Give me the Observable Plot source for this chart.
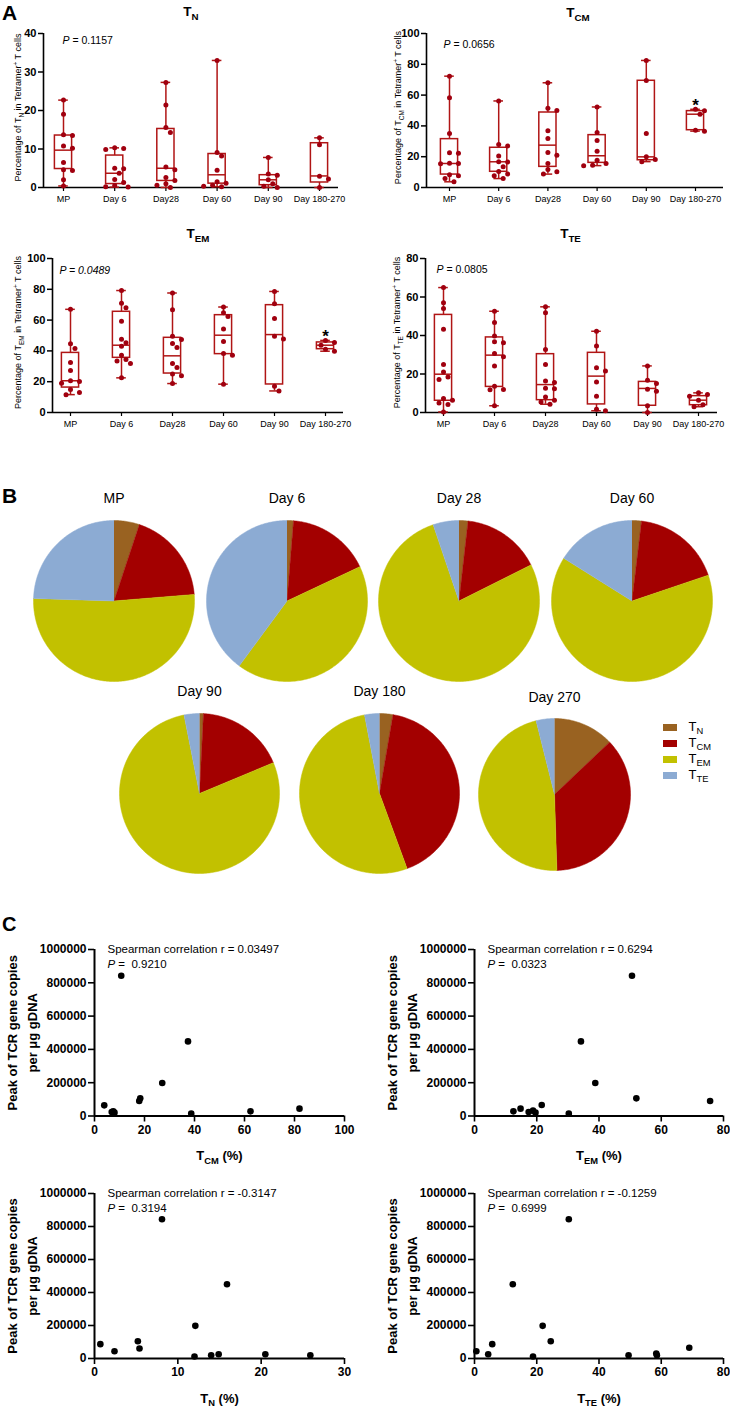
<!DOCTYPE html>
<html>
<head>
<meta charset="utf-8">
<script src="https://cdn.jsdelivr.net/npm/d3@7"></script>
<script src="https://cdn.jsdelivr.net/npm/@observablehq/plot@0.6"></script>
<style>
  html, body { margin: 0; padding: 0; background: #fff; }
  #fig { position: relative; width: 730px; height: 1407px; font-family: "Liberation Sans", Arial, Helvetica, sans-serif; color: #000; overflow: hidden; }
  .letter { position: absolute; font-weight: bold; line-height: 1; }
</style>
</head>
<body>
<div id="fig">
  <div class="letter" style="left:2px; top:2px; font-size:21px;">A</div>
  <div class="letter" style="left:2px; top:485px; font-size:21px;">B</div>
  <div class="letter" style="left:2px; top:914px; font-size:20px;">C</div>
</div>
<script>
// ---------------- DATA ----------------
const groupsA = ["MP", "Day 6", "Day28", "Day 60", "Day 90", "Day 180-270"];

// Panel A: individual values per group (% of tetramer+ T cells)
const tnPoints = [
  [22.7, 19.0, 13.7, 13.5, 10.8, 10.2, 6.5, 4.6, 4.4, 2.0, 0.4],
  [10.3, 10.1, 9.9, 5.0, 4.9, 3.7, 2.1, 1.3, 0.5, 0.2, 0.1],
  [27.3, 21.4, 15.6, 14.3, 5.3, 4.6, 2.6, 1.8, 1.0, 0.6, 0.0],
  [33.0, 9.1, 8.2, 4.5, 1.5, 1.1, 0.6, 0.3, 0.2],
  [7.8, 3.5, 3.2, 2.0, 1.0, 0.3, 0.0],
  [12.9, 11.1, 2.9, 2.2, 0.0]
];
// box stats: [min, q1, median, q3, max]
const tnBox = [
  [0.4, 4.8, 9.7, 13.5, 22.7], [0.1, 0.9, 3.7, 8.3, 10.3], [0.0, 1.7, 5.0, 15.2, 27.3],
  [0.2, 1.0, 3.3, 8.7, 33.0], [0.0, 0.6, 2.0, 3.2, 7.8], [0.0, 1.3, 3.0, 11.5, 12.9]
];
const tcmPoints = [
  [72.3, 58.2, 35.0, 22.5, 22.3, 15.8, 15.6, 15.5, 8.2, 7.6, 5.8, 3.7],
  [56.2, 27.9, 27.0, 20.5, 16.8, 16.5, 13.4, 10.4, 8.7, 7.6, 5.8],
  [68.0, 51.5, 50.0, 36.8, 31.8, 22.7, 21.0, 15.6, 11.7, 10.2, 8.7],
  [52.3, 35.7, 30.6, 23.6, 17.7, 15.6, 14.5, 14.2],
  [82.5, 69.5, 35.0, 20.0, 18.2, 16.8],
  [50.8, 49.8, 47.6, 37.2, 36.6]
];
const tcmBox = [
  [3.7, 8.4, 15.6, 31.4, 72.3], [5.8, 10.2, 16.7, 25.8, 56.2], [8.7, 13.4, 27.5, 48.7, 68.0],
  [14.2, 16.0, 20.6, 34.0, 52.3], [16.8, 17.7, 19.9, 69.3, 82.5], [36.6, 37.2, 47.6, 49.6, 50.8]
];
const temPoints = [
  [67.0, 44.6, 41.5, 32.5, 27.2, 20.6, 20.2, 19.0, 15.0, 13.0, 11.6],
  [79.2, 71.0, 68.0, 59.3, 47.6, 45.3, 43.1, 37.2, 34.4, 33.5, 31.8, 22.5],
  [77.6, 66.8, 49.5, 47.4, 44.8, 42.2, 31.8, 29.2, 25.0, 23.8, 18.8],
  [68.5, 64.7, 62.3, 54.3, 46.1, 38.3, 37.2, 18.4],
  [78.6, 70.6, 61.0, 49.5, 47.8, 17.0, 14.0],
  [46.8, 45.5, 43.7, 41.1, 39.8]
];
const temBox = [
  [11.6, 16.2, 20.6, 38.7, 67.0], [22.5, 35.5, 43.7, 65.4, 79.2], [18.8, 25.3, 36.8, 48.5, 77.6],
  [18.4, 37.9, 50.2, 63.2, 68.5], [14.0, 18.2, 50.6, 69.7, 78.6], [39.8, 41.1, 43.7, 45.5, 46.8]
];
const ttePoints = [
  [64.9, 57.0, 54.0, 43.3, 24.9, 21.1, 18.5, 17.1, 7.3, 6.4, 5.0, 4.2, 0.3],
  [52.6, 46.8, 39.8, 36.7, 36.2, 30.6, 28.9, 24.2, 13.7, 12.0, 11.8, 3.5],
  [54.9, 51.8, 32.7, 24.9, 16.3, 15.6, 12.6, 12.4, 8.1, 6.4, 5.5, 4.3],
  [42.2, 34.6, 23.2, 21.5, 15.9, 8.5, 1.7, 0.9],
  [24.2, 16.8, 15.1, 12.1, 11.1, 3.5, 0.0],
  [10.2, 9.3, 8.5, 6.4, 4.0, 3.0]
];
const tteBox = [
  [0.3, 6.1, 19.9, 50.7, 64.9], [3.5, 13.3, 29.8, 39.0, 52.6], [4.3, 6.4, 14.5, 30.3, 54.9],
  [0.9, 4.2, 18.9, 31.0, 42.2], [0.0, 3.5, 12.5, 15.9, 24.2], [3.0, 3.8, 6.4, 8.5, 10.2]
];
const yTicksTN = [0, 10, 20, 30, 40];
const yTicksTCM = [0, 20, 40, 60, 80, 100];
const yTicksTEM = [0, 20, 40, 60, 80, 100];
const yTicksTTE = [0, 20, 40, 60, 80];
const tcmStars = ["Day 180-270"];
const temStars = ["Day 180-270"];

// Panel B: composition (%) per time point
const pieGroups = ["MP", "Day 6", "Day 28", "Day 60", "Day 90", "Day 180", "Day 270"];
const subsets = ["TN", "TCM", "TEM", "TTE"];
const subsetLabels = ["T_{N}", "T_{CM}", "T_{EM}", "T_{TE}"];
const pieTN  = [5.1, 1.3, 1.8, 1.9, 0.8, 2.7, 12.9];
const pieTCM = [18.6, 16.7, 15.8, 17.9, 17.9, 41.7, 36.6];
const pieTEM = [51.8, 42.1, 77.2, 64.1, 78.2, 52.6, 46.6];
const pieTTE = [24.5, 39.9, 5.2, 16.1, 3.1, 3.0, 3.9];
const pieColors = ["#996221", "#a30000", "#c2c100", "#8cabd3"];

// Panel C: subset % vs peak TCR copies per µg gDNA
const peakTicks = [0, 200000, 400000, 600000, 800000, 1000000];
const cTcmX = [10.7, 37.4, 27.1, 18.3, 17.9, 3.9, 6.9, 8.0, 7.5, 38.7, 62.4, 82.0];
const cTcmY = [842000, 448000, 198000, 106000, 90000, 64000, 24000, 20000, 28000, 14000, 28000, 44000];
const cTemX = [50.6, 34.2, 38.8, 52.0, 75.7, 21.6, 14.8, 12.5, 17.4, 18.8, 19.6, 30.3];
const cTemY = [842000, 448000, 198000, 106000, 90000, 66000, 44000, 28000, 24000, 32000, 20000, 14000];
const cTnX = [8.1, 15.9, 12.1, 5.2, 0.7, 5.4, 2.4, 12.0, 14.0, 14.9, 20.5, 25.9];
const cTnY = [844000, 450000, 198000, 105000, 87000, 61000, 44000, 12000, 20000, 26000, 26000, 20000];
const cTteX = [30.3, 12.3, 21.9, 24.5, 5.7, 69.0, 0.6, 4.4, 18.8, 49.5, 58.4, 58.6];
const cTteY = [844000, 450000, 198000, 105000, 87000, 65000, 44000, 26000, 12000, 20000, 30000, 20000];
const cTcmTicks = [0, 20, 40, 60, 80, 100];
const cTemTicks = [0, 20, 40, 60, 80];
const cTnTicks = [0, 10, 20, 30];
const cTteTicks = [0, 20, 40, 60, 80];

// ---------------- HELPERS ----------------
const FONT = "Liberation Sans, Arial, Helvetica, sans-serif";
const RED = "#b01515", DOT = "#a0000f";
const fig = document.getElementById("fig");
const baseStyle = {fontFamily: FONT, background: "transparent", overflow: "visible", color: "#000"};

function rich(root) {
  root.querySelectorAll("text").forEach(t => {
    if (t.querySelector("tspan")) return;
    const s = t.textContent;
    if (!/_\{|\^\{|`/.test(s)) return;
    const fs = parseFloat(getComputedStyle(t).fontSize) || 10;
    t.textContent = "";
    let cur = 0;
    for (const p of s.split(/(_\{[^}]*\}|\^\{[^}]*\}|`[^`]*`)/)) {
      if (!p) continue;
      const ts = document.createElementNS("http://www.w3.org/2000/svg", "tspan");
      let target = 0, txt = p;
      if (p.startsWith("_{")) { target = 0.28 * fs; txt = p.slice(2, -1); ts.setAttribute("font-size", (0.72 * fs).toFixed(2)); }
      else if (p.startsWith("^{")) { target = -0.4 * fs; txt = p.slice(2, -1); ts.setAttribute("font-size", (0.72 * fs).toFixed(2)); }
      else if (p.startsWith("`")) { txt = p.slice(1, -1); ts.setAttribute("font-style", "italic"); }
      if (target !== cur) { ts.setAttribute("dy", (target - cur).toFixed(2)); cur = target; }
      ts.textContent = txt;
      t.appendChild(ts);
    }
  });
}

function place(el, left, top) {
  el.style.position = "absolute";
  el.style.left = left + "px";
  el.style.top = top + "px";
  fig.appendChild(el);
  rich(el);
}

// simple deterministic beeswarm (pixel offsets)
function swarm(vals, ppu, d) {
  const order = d3.range(vals.length).sort((a, b) => vals[b] - vals[a]);
  const placed = [], offs = new Array(vals.length).fill(0);
  for (const j of order) {
    const py = vals[j] * ppu;
    for (const k of [0, 1, -1, 2, -2, 3, -3, 4, -4]) {
      const ox = k * d * 0.8;
      if (placed.every(p => Math.hypot(p.x - ox, p.y - py) >= d)) { offs[j] = ox; placed.push({x: ox, y: py}); break; }
    }
  }
  return offs;
}

function boxPanel(c) {
  const n = groupsA.length;
  const mL = c.axisX - c.left, mR = c.left + c.width - c.axisRight;
  const mT = c.frameTop - c.top, mB = c.top + c.height - c.frameBottom;
  const step = (c.cLast - c.cFirst) / (n - 1);
  const dom = [(c.axisX - c.cFirst) / step, (n - 1) + (c.axisRight - c.cLast) / step];
  const ppu = (c.frameBottom - c.frameTop) / c.yMax;
  const pts = c.points.flatMap((arr, i) => {
    const o = swarm(arr, ppu, 5.6);
    return arr.map((v, k) => ({i, v, off: o[k] / step}));
  });
  const stats = c.box.map(([mn, q1, md, q3, mx], i) => ({i, mn, q1, md, q3, mx}));
  const hw = 8.6 / step, cw = 4.8 / step;
  const stars = c.stars.map(g => { const i = groupsA.indexOf(g); return {i, y: c.box[i][4]}; });
  const svg = Plot.plot({
    width: c.width, height: c.height,
    marginLeft: mL, marginRight: mR, marginTop: mT, marginBottom: mB,
    style: baseStyle,
    x: {domain: dom},
    y: {domain: [0, c.yMax]},
    marks: [
      Plot.axisY({ticks: c.yTicks, tickFormat: d => String(d), tickSize: 5, tickPadding: 2, fontSize: 11, fontWeight: "bold", strokeWidth: 1.5, label: null}),
      Plot.axisX({ticks: d3.range(n), tickFormat: i => groupsA[i], tickSize: 4, tickPadding: 4, fontSize: 9, strokeWidth: 1.2, label: null}),
      Plot.ruleY([0], {stroke: "#000", strokeWidth: 1.6}),
      Plot.ruleX([dom[0]], {stroke: "#000", strokeWidth: 1.6}),
      Plot.ruleX(stats, {x: "i", y1: "q3", y2: "mx", stroke: RED, strokeWidth: 1.5}),
      Plot.ruleX(stats, {x: "i", y1: "mn", y2: "q1", stroke: RED, strokeWidth: 1.5}),
      Plot.ruleY(stats, {y: "mx", x1: d => d.i - cw, x2: d => d.i + cw, stroke: RED, strokeWidth: 1.5}),
      Plot.ruleY(stats, {y: "mn", x1: d => d.i - cw, x2: d => d.i + cw, stroke: RED, strokeWidth: 1.5}),
      Plot.rect(stats, {x1: d => d.i - hw, x2: d => d.i + hw, y1: "q1", y2: "q3", fill: "none", stroke: RED, strokeWidth: 1.5}),
      Plot.ruleY(stats, {y: "md", x1: d => d.i - hw, x2: d => d.i + hw, stroke: RED, strokeWidth: 1.5}),
      Plot.dot(pts, {x: d => d.i + d.off, y: "v", r: 2.5, fill: DOT, stroke: "none"}),
      Plot.text(stars, {x: "i", y: "y", text: () => "*", dy: -4, fontSize: 17, fontWeight: "bold"}),
      Plot.text([c.title], {text: d => d, frameAnchor: "top", textAnchor: "middle", lineAnchor: "middle", dx: c.titleDx, dy: c.titleDy, fontSize: 13.5, fontWeight: "bold"}),
      Plot.text([c.ylab], {text: d => d, frameAnchor: "left", textAnchor: "middle", lineAnchor: "middle", rotate: -90, dx: c.ylabDx, dy: -3, fontSize: 9}),
      Plot.text([c.ptext], {text: d => d, frameAnchor: "top-left", textAnchor: "start", lineAnchor: "middle", dx: c.pDx, dy: c.pDy, fontSize: 10.5})
    ]
  });
  place(svg, c.left, c.top);
}

function pie(k, cx, cy, r, titleY) {
  const vals = [pieTN[k], pieTCM[k], pieTEM[k], pieTTE[k]];
  const rows = [];
  let acc = 0;
  vals.forEach((v, s) => {
    const a0 = acc / 100 * 2 * Math.PI, a1 = (acc + v) / 100 * 2 * Math.PI;
    acc += v;
    const steps = Math.max(2, Math.ceil((a1 - a0) / (Math.PI / 180)));
    rows.push({s: subsets[s], x: 0, y: 0});
    for (let j = 0; j <= steps; j++) {
      const t = a0 + (a1 - a0) * j / steps;
      rows.push({s: subsets[s], x: Math.sin(t), y: Math.cos(t)});
    }
  });
  const W = 2 * r + 4, top = 30;
  const svg = Plot.plot({
    width: W, height: W + top - 2,
    marginLeft: 2, marginRight: 2, marginBottom: 2, marginTop: top,
    style: baseStyle,
    x: {domain: [-1, 1], axis: null},
    y: {domain: [-1, 1], axis: null},
    color: {domain: subsets, range: pieColors},
    marks: [
      Plot.line(rows, {x: "x", y: "y", z: "s", fill: "s", stroke: "s", strokeWidth: 0.5}),
      Plot.text([pieGroups[k]], {text: d => d, frameAnchor: "top", textAnchor: "middle", lineAnchor: "middle", dy: titleY - (cy - r), fontSize: 14})
    ]
  });
  place(svg, cx - r - 2, cy - r - top);
}

function scatter(c) {
  const mL = c.axisX - c.left, mR = c.left + c.width - c.axisRight;
  const mT = c.frameTop - c.top, mB = c.top + c.height - c.frameBottom;
  const data = c.xs.map((x, i) => ({x, y: c.ys[i]}));
  const svg = Plot.plot({
    width: c.width, height: c.height,
    marginLeft: mL, marginRight: mR, marginTop: mT, marginBottom: mB,
    style: baseStyle,
    x: {domain: [0, c.xMax]},
    y: {domain: [0, 1000000]},
    marks: [
      Plot.axisY({ticks: peakTicks, tickFormat: d => String(d), tickSize: 6, tickPadding: 2, fontSize: 12, fontWeight: "bold", strokeWidth: 1.6, label: null}),
      Plot.axisX({ticks: c.xTicks, tickFormat: d => String(d), tickSize: 6, tickPadding: 3, fontSize: 12, fontWeight: "bold", strokeWidth: 1.6, label: null}),
      Plot.ruleY([0], {stroke: "#000", strokeWidth: 2}),
      Plot.ruleX([0], {stroke: "#000", strokeWidth: 2}),
      Plot.dot(data, {x: "x", y: "y", r: 3.3, fill: "#000", stroke: "none"}),
      Plot.text(["Peak of TCR gene copies\nper \u03bcg gDNA"], {text: d => d, frameAnchor: "left", textAnchor: "middle", lineAnchor: "middle", rotate: -90, dx: -74, lineHeight: 1.55, fontSize: 13, fontWeight: "bold"}),
      Plot.text([c.xlab], {text: d => d, frameAnchor: "bottom", textAnchor: "middle", lineAnchor: "middle", dy: 40, fontSize: 13, fontWeight: "bold"}),
      Plot.text([c.rtext], {text: d => d, frameAnchor: "top-left", textAnchor: "start", lineAnchor: "middle", dx: c.aDx, dy: 0, fontSize: 11.5}),
      Plot.text([c.ptext], {text: d => d, frameAnchor: "top-left", textAnchor: "start", lineAnchor: "middle", dx: c.aDx, dy: 14.5, fontSize: 11.5})
    ]
  });
  place(svg, c.left, c.top);
}

// ---------------- PANEL A ----------------
boxPanel({points: tnPoints, box: tnBox, yMax: 40, yTicks: yTicksTN, stars: [],
  title: "T_{N}", ylab: "Percentage of T_{N} in Tetramer^{+} T cells", ptext: "`P` = 0.1157",
  left: 0, top: 0, width: 365, height: 215, axisX: 43, axisRight: 338, frameTop: 33, frameBottom: 187,
  cFirst: 63, cLast: 319, titleDx: 0, titleDy: -22, ylabDx: -25, pDx: 19, pDy: 7});
boxPanel({points: tcmPoints, box: tcmBox, yMax: 100, yTicks: yTicksTCM, stars: tcmStars,
  title: "T_{CM}", ylab: "Percentage of T_{CM} in Tetramer^{+} T cells", ptext: "`P` = 0.0656",
  left: 365, top: 0, width: 365, height: 215, axisX: 426, axisRight: 723, frameTop: 33, frameBottom: 187,
  cFirst: 449, cLast: 695, titleDx: 3, titleDy: -21, ylabDx: -28, pDx: 17, pDy: 11});
boxPanel({points: temPoints, box: temBox, yMax: 100, yTicks: yTicksTEM, stars: temStars,
  title: "T_{EM}", ylab: "Percentage of T_{EM} in Tetramer^{+} T cells", ptext: "`P = 0.0489`",
  left: 0, top: 200, width: 365, height: 235, axisX: 52, axisRight: 343, frameTop: 258, frameBottom: 412,
  cFirst: 70, cLast: 325, titleDx: 0, titleDy: -25, ylabDx: -34, pDx: 7, pDy: 12});
boxPanel({points: ttePoints, box: tteBox, yMax: 80, yTicks: yTicksTTE, stars: [],
  title: "T_{TE}", ylab: "Percentage of T_{TE} in Tetramer^{+} T cells", ptext: "`P` = 0.0805",
  left: 365, top: 200, width: 365, height: 235, axisX: 425, axisRight: 717, frameTop: 258, frameBottom: 412,
  cFirst: 443, cLast: 698, titleDx: -1, titleDy: -25, ylabDx: -28, pDx: 11, pDy: 11});

// ---------------- PANEL B ----------------
pie(0, 113.5, 600, 80.5, 498);
pie(1, 286, 600, 80.5, 498);
pie(2, 458.5, 600, 80.5, 498);
pie(3, 631, 600, 80.5, 498);
pie(4, 198.5, 793, 80, 691);
pie(5, 379, 793, 80, 691);
pie(6, 553.5, 794, 76, 697);

// legend
{
  const svg = Plot.plot({
    width: 75, height: 72, margin: 0,
    style: baseStyle,
    x: {domain: [0, 1], range: [8, 22], axis: null},
    y: {type: "point", domain: subsets, range: [11, 61], padding: 0, axis: null},
    color: {domain: subsets, range: pieColors},
    marks: [
      Plot.ruleY(subsets, {y: d => d, x1: 0, x2: 1, stroke: d => d, strokeWidth: 7}),
      Plot.text(subsets, {y: d => d, x: 1, dx: 11, dy: -1, text: (d, i) => subsetLabels[i], textAnchor: "start", lineAnchor: "middle", fontSize: 13})
    ]
  });
  place(svg, 655, 715);
}

// ---------------- PANEL C ----------------
scatter({xs: cTcmX, ys: cTcmY, xMax: 100, xTicks: cTcmTicks, xlab: "T_{CM} (%)",
  rtext: "Spearman correlation r = 0.03497", ptext: "`P` =\u00a0 0.9210",
  left: 0, top: 930, width: 365, height: 240, axisX: 94, axisRight: 344, frameTop: 949, frameBottom: 1115.5, aDx: 13});
scatter({xs: cTemX, ys: cTemY, xMax: 80, xTicks: cTemTicks, xlab: "T_{EM} (%)",
  rtext: "Spearman correlation r = 0.6294", ptext: "`P` =\u00a0 0.0323",
  left: 365, top: 930, width: 365, height: 240, axisX: 474, axisRight: 723, frameTop: 949, frameBottom: 1115.5, aDx: 13});
scatter({xs: cTnX, ys: cTnY, xMax: 30, xTicks: cTnTicks, xlab: "T_{N} (%)",
  rtext: "Spearman correlation r = -0.3147", ptext: "`P` =\u00a0 0.3194",
  left: 0, top: 1172, width: 365, height: 235, axisX: 94, axisRight: 344, frameTop: 1193, frameBottom: 1358, aDx: 13});
scatter({xs: cTteX, ys: cTteY, xMax: 80, xTicks: cTteTicks, xlab: "T_{TE} (%)",
  rtext: "Spearman correlation r = -0.1259", ptext: "`P` =\u00a0 0.6999",
  left: 365, top: 1172, width: 365, height: 235, axisX: 474, axisRight: 723, frameTop: 1193, frameBottom: 1358, aDx: 13});
</script>
</body>
</html>
